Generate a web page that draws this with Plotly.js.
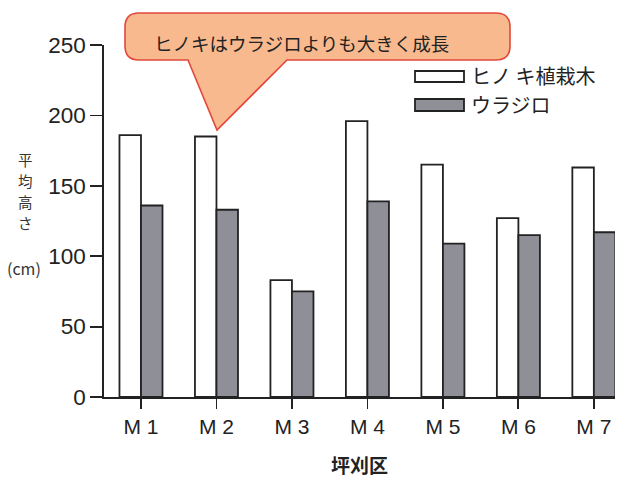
<!DOCTYPE html>
<html>
<head>
<meta charset="utf-8">
<script src="https://cdn.plot.ly/plotly-3.0.1.min.js"></script>
<style>
  html, body { margin: 0; padding: 0; background: #fff; }
  #chart { width: 622px; height: 478px; }
</style>
</head>
<body>
<div id="chart"></div>
<script>
// Plot categories and mean heights (cm)
const plots = ['M1', 'M2', 'M3', 'M4', 'M5', 'M6', 'M7'];
const plotLabels = ['M 1', 'M 2', 'M 3', 'M 4', 'M 5', 'M 6', 'M 7'];
const hinokiHeights = [186, 185, 83, 196, 165, 127, 163];
const urajiroHeights = [136, 133, 75, 139, 109, 115, 117];
const seriesNames = ['ヒノ キ植栽木', 'ウラジロ'];
const yTicks = [0, 50, 100, 150, 200, 250];
const yTitleChars = ['平', '均', '高', 'さ'];

const W = 622, H = 478;
const M = { l: 104, r: 7, t: 45, b: 81 };
const PW = W - M.l - M.r, PH = H - M.t - M.b;
// pixel -> paper helpers for the decorations
const px = x => (x - M.l) / PW;
const py = y => (H - M.b - y) / PH;

const JP = '"Noto Sans CJK JP", "Noto Sans", sans-serif';
const LAT = '"Liberation Sans", Arial, sans-serif';
const INK = '#222222';
const GREY = '#8e8f97';

const traces = [
  {
    type: 'bar', name: seriesNames[0], x: plots, y: hinokiHeights,
    marker: { color: '#ffffff', line: { color: INK, width: 1.8 } },
    hoverinfo: 'x+y'
  },
  {
    type: 'bar', name: seriesNames[1], x: plots, y: urajiroHeights,
    marker: { color: GREY, line: { color: INK, width: 1.8 } },
    hoverinfo: 'x+y'
  }
];

// speech-bubble callout
function calloutPath() {
  const L = 125, R = 510, T = 13, B = 60, r = 14;
  const pts = [
    ['M', L + r, T], ['L', R - r, T], ['Q', R, T, R, T + r], ['L', R, B - r],
    ['Q', R, B, R - r, B], ['L', 287, B], ['L', 217, 130], ['L', 188, B],
    ['L', L + r, B], ['Q', L, B, L, B - r], ['L', L, T + r], ['Q', L, T, L + r, T]
  ];
  return pts.map(p => {
    const c = p[0];
    const nums = [];
    for (let i = 1; i < p.length; i += 2) nums.push(px(p[i]).toFixed(5) + ',' + py(p[i + 1]).toFixed(5));
    return c + nums.join(' ');
  }).join(' ') + ' Z';
}

const shapes = [
  {
    type: 'path', xref: 'paper', yref: 'paper', path: calloutPath(),
    fillcolor: '#f8b98e', line: { color: '#e2483a', width: 1.6 }, layer: 'above'
  },
  // legend keys
  {
    type: 'rect', xref: 'paper', yref: 'paper',
    x0: px(415), x1: px(464), y0: py(71), y1: py(82),
    fillcolor: '#ffffff', line: { color: INK, width: 1.8 }
  },
  {
    type: 'rect', xref: 'paper', yref: 'paper',
    x0: px(415), x1: px(464), y0: py(99), y1: py(111),
    fillcolor: GREY, line: { color: INK, width: 1.8 }
  }
];

const annotations = [
  {
    xref: 'paper', yref: 'paper', x: px(301), y: py(43), xanchor: 'center', yanchor: 'middle',
    text: 'ヒノキはウラジロよりも大きく成長', showarrow: false,
    font: { family: JP, size: 18.5, color: INK }
  },
  {
    xref: 'paper', yref: 'paper', x: px(469), y: py(76), xanchor: 'left', yanchor: 'middle',
    text: seriesNames[0], showarrow: false,
    font: { family: JP, size: 20, color: INK }
  },
  {
    xref: 'paper', yref: 'paper', x: px(469), y: py(105), xanchor: 'left', yanchor: 'middle',
    text: seriesNames[1], showarrow: false,
    font: { family: JP, size: 20, color: INK }
  },
  {
    xref: 'paper', yref: 'paper', x: px(24), y: py(268), xanchor: 'center', yanchor: 'middle',
    text: '(cm)', showarrow: false,
    font: { family: JP, size: 16, color: '#333333' }
  }
];

// vertical y-axis title, one character per row
yTitleChars.forEach((ch, i) => {
  annotations.push({
    xref: 'paper', yref: 'paper', x: px(25), y: py(159 + i * 21.3),
    xanchor: 'center', yanchor: 'middle', text: ch, showarrow: false,
    borderpad: 0,
    font: { family: JP, size: 14.5, color: '#333333' }
  });
});

const layout = {
  width: W, height: H,
  margin: M,
  paper_bgcolor: '#ffffff', plot_bgcolor: '#ffffff',
  font: { family: LAT, color: INK },
  showlegend: false,
  barmode: 'group',
  bargap: 0.43,
  bargroupgap: 0,
  xaxis: {
    type: 'category',
    range: [-0.49, 6.28],
    tickvals: plots, ticktext: plotLabels,
    ticks: 'outside', ticklen: 10, tickwidth: 1.8, tickcolor: INK,
    showline: true, linecolor: INK, linewidth: 1.8,
    showgrid: false, zeroline: false,
    tickfont: { family: LAT, size: 21, color: INK },
    title: { text: '坪刈区', standoff: 25, font: { family: JP, size: 19, color: INK, weight: 'bold' } }
  },
  yaxis: {
    range: [0, 250],
    tickvals: yTicks,
    ticks: 'outside', ticklen: 12, tickwidth: 1.8, tickcolor: INK,
    showline: true, linecolor: INK, linewidth: 1.8,
    showgrid: false, zeroline: false,
    tickfont: { family: LAT, size: 22.5, color: INK }
  },
  shapes: shapes,
  annotations: annotations
};

Plotly.newPlot('chart', traces, layout, { displayModeBar: false, staticPlot: true });
</script>
</body>
</html>
